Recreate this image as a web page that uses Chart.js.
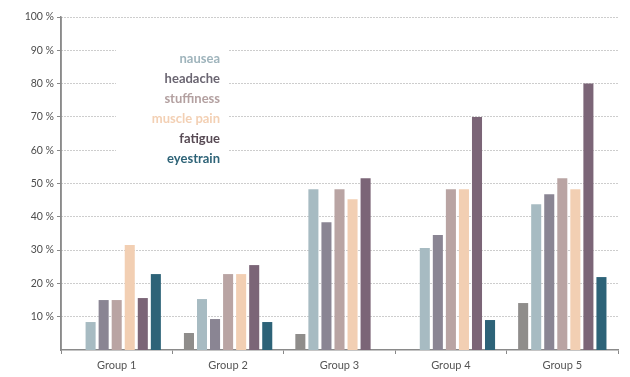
<!DOCTYPE html>
<html><head><meta charset="utf-8">
<script src="https://cdn.jsdelivr.net/npm/chart.js@4"></script>
<style>html,body{margin:0;padding:0;background:#fff}#wrap{width:630px;height:377px}</style>
</head><body><div id="wrap"><canvas id="c" width="630" height="377"></canvas></div>
<script>
const categories = ["Group 1","Group 2","Group 3","Group 4","Group 5"];
const seriesNames = ["", "nausea","headache","stuffiness","muscle pain","fatigue","eyestrain"];
const other      = [0, 5.1, 4.8, 0, 14.1];
const nausea     = [8.4, 15.3, 48.3, 30.6, 43.8];
const headache   = [15, 9.3, 38.4, 34.5, 46.8];
const stuffiness = [15, 22.8, 48.3, 48.3, 51.6];
const musclePain = [31.5, 22.8, 45.3, 48.3, 48.3];
const fatigue    = [15.6, 25.5, 51.6, 70, 80];
const eyestrain  = [22.8, 8.4, 0, 9, 21.9];
const yTicks = [10,20,30,40,50,60,70,80,90,100];

const barColors = ["#8f8d8b","#a7bbc2","#8a8593","#b9a4a3","#f2cfb3","#7b6577","#2d6378"];
const textColors = ["#8f8d8b","#9fb4bc","#6b6672","#b3a0a0","#f3d0b4","#574a54","#2f6478"];
const values = [other, nausea, headache, stuffiness, musclePain, fatigue, eyestrain];

const datasets = values.map((v,i)=>({
  label: seriesNames[i], data: v, backgroundColor: barColors[i],
  categoryPercentage: 0.82, barPercentage: 0.77
}));

const legendPlugin = {
  id: 'txtLegend',
  afterDatasetsDraw(chart){
    const ctx = chart.ctx;
    ctx.save();
    ctx.fillStyle = '#fff';
    ctx.fillRect(116, 40, 112, 130);
    ctx.font = 'bold 13px Lato, "Open Sans", sans-serif';
    ctx.textAlign = 'right';
    ctx.textBaseline = 'middle';
    let row = 0;
    seriesNames.forEach((n,i)=>{
      if(!n) return;
      ctx.fillStyle = textColors[i];
      ctx.fillText(n, 220, 59 + row*20);
      row++;
    });
    ctx.restore();
  }
};

new Chart(document.getElementById('c'), {
  type: 'bar',
  data: { labels: categories, datasets },
  options: {
    responsive: false, animation: false,
    layout: { padding: { left: 4, right: 12, top: 17, bottom: 0 } },
    plugins: { legend: { display: false }, tooltip: { enabled: false } },
    scales: {
      x: {
        grid: { display: true, drawOnChartArea: false, drawTicks: true, tickLength: 4, color: '#888', offset: true },
        border: { display: true, color: '#8a8a8a', width: 1.5 },
        ticks: { color: '#555', font: { family: 'Lato, "Open Sans", sans-serif', size: 11 }, padding: 5 },
        afterFit(s){ s.height = 27; }
      },
      y: {
        min: 0, max: 100,
        afterBuildTicks(s){ s.ticks = yTicks.map(v=>({value:v})); },
        grid: { color: '#9a9a9a', lineWidth: 1, tickLength: 4, tickColor: '#888', drawTicks: true, tickBorderDash: [] },
        border: { display: true, color: '#8a8a8a', width: 1.5, dash: [1,2] },
        ticks: { color: '#4d4d4d', font: { family: 'Lato, "Open Sans", sans-serif', size: 10.5 }, padding: 3,
          callback: v => v + ' %' },
        afterFit(s){ s.width = 57; }
      }
    }
  },
  plugins: [legendPlugin, {
    id: 'solidYAxis',
    afterDraw(chart){
      const {ctx, chartArea} = chart;
      ctx.save();
      ctx.strokeStyle = '#8a8a8a'; ctx.lineWidth = 1.5;
      ctx.beginPath(); ctx.moveTo(chartArea.left, chartArea.top); ctx.lineTo(chartArea.left, chartArea.bottom); ctx.stroke();
      ctx.restore();
    }
  }]
});
</script></body></html>
